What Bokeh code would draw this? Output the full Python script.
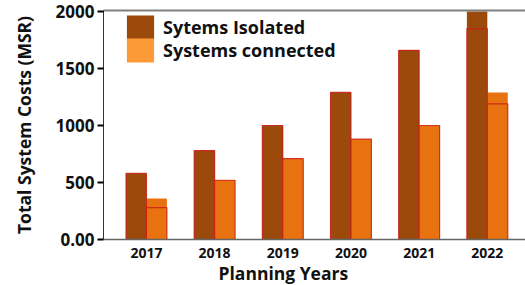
from bokeh.plotting import figure
from bokeh.models import (ColumnDataSource, Range1d, FixedTicker, LinearAxis,
                          Legend, LegendItem, Title)
from bokeh.transform import dodge
from bokeh.embed import file_html
from bokeh.resources import INLINE

years = ["2017", "2018", "2019", "2020", "2021", "2022"]
isolated = [580, 780, 1000, 1290, 1660, 1850]
isolated_top = [580, 780, 1000, 1290, 1660, 2000]
connected = [280, 520, 710, 880, 1000, 1190]
connected_top = [360, 520, 710, 880, 1000, 1290]
y_ticks = [0, 500, 1000, 1500, 2000]

FONT = "Open Sans"
C_ISO = "#9B4A0B"
C_CON = "#E87210"
C_CON_LEG = "#FC9A38"
C_EDGE = "#CC1A1A"

idx = list(range(len(years)))
src = ColumnDataSource(dict(x=idx, iso=isolated, iso_top=isolated_top,
                            con=connected, con_top=connected_top))

p = figure(width=525, height=285, output_backend="svg", toolbar_location=None,
           x_range=Range1d(-0.63, 5.56), y_range=Range1d(0, 2009),
           min_border_left=103, min_border_right=0, min_border_top=10,
           min_border_bottom=46)
p.outline_line_color = None
p.grid.visible = False
p.background_fill_color = "white"

W = 0.3
p.vbar(x=dodge("x", -W / 2, range=p.x_range), top="iso_top", width=W, source=src,
       fill_color=C_ISO, line_color=None)
p.vbar(x=dodge("x", W / 2, range=p.x_range), top="con_top", width=W, source=src,
       fill_color=C_CON, line_color=None)
p.vbar(x=dodge("x", -W / 2, range=p.x_range), top="iso", width=W, source=src,
       fill_color=C_ISO, line_color=C_EDGE, line_width=1.2, line_alpha=0.8)
p.vbar(x=dodge("x", W / 2, range=p.x_range), top="con", width=W, source=src,
       fill_color=C_CON, line_color=C_EDGE, line_width=1.2, line_alpha=0.8)

# legend swatch renderers: zero-height bars (invisible in the plot area)
leg_iso = p.vbar(x=dodge("x", -W / 2, range=p.x_range), top="iso", bottom="iso",
                 width=W, source=src, fill_color=C_ISO, line_color=None)
leg_con = p.vbar(x=dodge("x", W / 2, range=p.x_range), top="con", bottom="con",
                 width=W, source=src, fill_color=C_CON_LEG, line_color=None)

FB = 239  # frame bottom in canvas px (min_border_top + frame height)


def make_legend(label, rend, top_px):
    return Legend(items=[LegendItem(label=label, renderers=[rend])],
                  location=(20, FB - (top_px + 30)), glyph_width=34, glyph_height=30,
                  padding=0, margin=0, label_standoff=6, label_height=24,
                  border_line_color=None, background_fill_alpha=0,
                  label_text_font=FONT, label_text_font_style="bold",
                  label_text_font_size="18px", label_text_color="#111111")


p.add_layout(make_legend("Sytems Isolated", leg_iso, 12))
p.add_layout(make_legend("Systems connected", leg_con, 35))

# y axis
ya = p.yaxis[0]
ya.ticker = FixedTicker(ticks=y_ticks)
ya.major_label_overrides = {0: "0.00"}
ya.axis_label = "Total System Costs (MSR)"
ya.axis_label_text_font = FONT
ya.axis_label_text_font_style = "bold"
ya.axis_label_text_font_size = "17.5px"
ya.axis_label_text_color = "#111111"
ya.axis_label_standoff = 17
ya.major_label_text_font = FONT
ya.major_label_text_font_style = "bold"
ya.major_label_text_font_size = "17px"
ya.major_label_text_color = "#111111"
ya.major_label_standoff = 3
ya.major_tick_out = 6
ya.major_tick_in = 0
ya.major_tick_line_width = 2
ya.major_tick_line_color = "black"
ya.minor_tick_line_color = None
ya.axis_line_color = "#333333"
ya.axis_line_width = 1

# x axis
xa = p.xaxis[0]
xa.ticker = FixedTicker(ticks=idx)
xa.major_label_overrides = {i: y for i, y in zip(idx, years)}
xa.major_label_text_font = FONT
xa.major_label_text_font_style = "bold"
xa.major_label_text_font_size = "14px"
xa.major_label_text_color = "#111111"
xa.major_label_standoff = 8
xa.major_tick_line_color = None
xa.major_tick_out = 0
xa.minor_tick_line_color = None
xa.axis_line_color = "#666666"
xa.axis_line_width = 1.5

# top frame line
top = LinearAxis(major_label_text_font_size="0px", major_tick_line_color=None,
                 minor_tick_line_color=None, axis_line_color="#808080",
                 axis_line_width=2, major_label_standoff=0, major_tick_out=0)
top.ticker = FixedTicker(ticks=[])
p.add_layout(top, "above")

p.add_layout(Title(text="Planning Years", align="left", offset=115, standoff=-3,
                   text_font=FONT, text_font_style="bold", text_font_size="17.5px",
                   text_color="#111111"), "below")

open("out.html", "w").write(file_html(p, INLINE))
